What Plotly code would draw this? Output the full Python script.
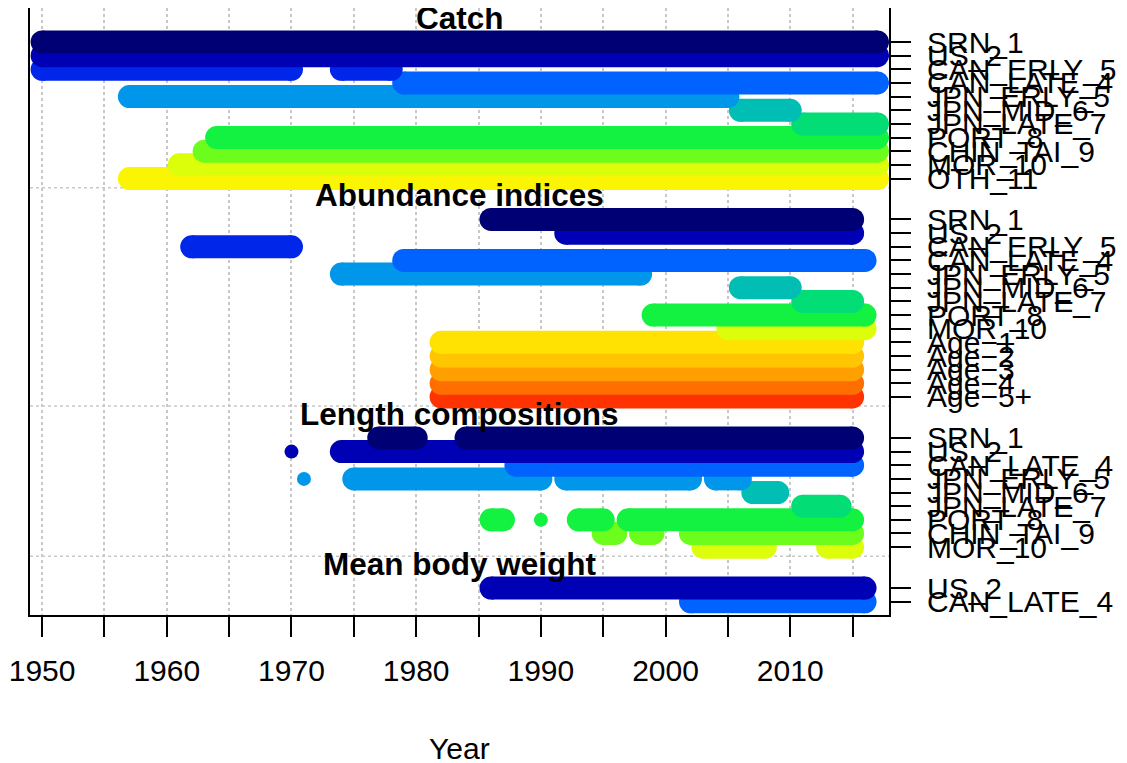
import plotly.graph_objects as go

# ---------------- data ----------------
catch_labels = ["SRN_1", "US_2", "CAN_ERLY_5", "CAN_LATE_4", "JPN_ERLY_5", "JPN_MID_6",
                "JPN_LATE_7", "PORT_8", "CHIN_TAI_9", "MOR_10", "OTH_11"]
catch_spans = [
    [(1950, 2017)],
    [(1950, 2017)],
    [(1950, 1970), (1974, 1978)],
    [(1979, 2017)],
    [(1957, 2005)],
    [(2006, 2010)],
    [(2011, 2017)],
    [(1964, 2017)],
    [(1963, 2017)],
    [(1961, 2017)],
    [(1957, 2017)],
]

index_labels = ["SRN_1", "US_2", "CAN_ERLY_5", "CAN_LATE_4", "JPN_ERLY_5", "JPN_MID_6",
                "JPN_LATE_7", "PORT_8", "MOR_10", "Age\u22121", "Age\u22122", "Age\u22123",
                "Age\u22124", "Age\u22125+"]
index_spans = [
    [(1986, 2015)],
    [(1992, 2015)],
    [(1962, 1970)],
    [(1979, 2016)],
    [(1974, 1998)],
    [(2006, 2010)],
    [(2011, 2015)],
    [(1999, 2016)],
    [(2005, 2016)],
    [(1982, 2015)],
    [(1982, 2015)],
    [(1982, 2015)],
    [(1982, 2015)],
    [(1982, 2015)],
]

length_labels = ["SRN_1", "US_2", "CAN_LATE_4", "JPN_ERLY_5", "JPN_MID_6", "JPN_LATE_7",
                 "PORT_8", "CHIN_TAI_9", "MOR_10"]
length_spans = [
    [(1977, 1980), (1984, 2015)],
    [(1970, 1970), (1974, 2015)],
    [(1988, 2015)],
    [(1971, 1971), (1975, 1990), (1992, 2002), (2004, 2006)],
    [(2007, 2009)],
    [(2011, 2014)],
    [(1986, 1987), (1990, 1990), (1993, 1995), (1997, 2015)],
    [(1995, 1996), (1998, 1999), (2002, 2015)],
    [(2003, 2008), (2013, 2015)],
]

weight_labels = ["US_2", "CAN_LATE_4"]
weight_spans = [
    [(1986, 2016)],
    [(2002, 2016)],
]

section_titles = ["Catch", "Abundance indices", "Length compositions", "Mean body weight"]

year_ticks = list(range(1950, 2016, 5))
year_ticktext = [str(y) if y % 10 == 0 else "" for y in year_ticks]

# ---------------- styles ----------------
fleet_colors = {
    "SRN_1": "#000075", "US_2": "#0000B4", "CAN_ERLY_5": "#0026EA", "CAN_LATE_4": "#0063FF",
    "JPN_ERLY_5": "#0096EA", "JPN_MID_6": "#00BEB4", "JPN_LATE_7": "#02DD75",
    "PORT_8": "#13F240", "CHIN_TAI_9": "#6CFD1D", "MOR_10": "#DDFE0B", "OTH_11": "#FBF504",
    "Age\u22121": "#FFE201", "Age\u22122": "#FFC500", "Age\u22123": "#FF9F00",
    "Age\u22124": "#FF6E00", "Age\u22125+": "#FF3300",
}
FONT = "Liberation Sans, Arial, Helvetica, sans-serif"
BAR_W = 23
DOT = 14
SECTION_SKIP = 2  # empty row slots between sections (header area)

fig = go.Figure()

sections = list(zip(section_titles,
                    [catch_labels, index_labels, length_labels, weight_labels],
                    [catch_spans, index_spans, length_spans, weight_spans]))

tickvals, ticktext = [], []
annotations, shapes = [], []
row = 0
for si, (title, labels, spans) in enumerate(sections):
    first = row
    positions = list(range(row, row + len(labels)))
    annotations.append(dict(x=0.5, xref="paper", y=first - 1.77, yref="y", text="<b>%s</b>" % title,
                            showarrow=False, xanchor="center", yanchor="middle",
                            font=dict(family=FONT, size=31.5, color="black")))
    if si > 0:
        shapes.append(dict(type="line", xref="paper", x0=0, x1=1, yref="y",
                           y0=first - 2.33, y1=first - 2.33, layer="below",
                           line=dict(color="#C8C8C8", width=1.5, dash="dot")))
    tickvals += positions
    ticktext += labels
    for lab, pos, sp in reversed(list(zip(labels, positions, spans))):
        xs, ys, sizes = [], [], []
        for a, b in sp:
            if a == b:
                xs += [a, None]; ys += [pos, None]; sizes += [DOT, 0]
            else:
                xs += [a, b, None]; ys += [pos, pos, None]; sizes += [BAR_W, BAR_W, 0]
        c = fleet_colors[lab]
        fig.add_trace(go.Scatter(x=xs, y=ys, mode="lines+markers",
                                 line=dict(color=c, width=BAR_W),
                                 marker=dict(size=sizes, color=c, opacity=1, line=dict(width=0)),
                                 opacity=1,
                                 hoverinfo="skip", showlegend=False, connectgaps=False))
    row += len(labels) + SECTION_SKIP

annotations.append(dict(x=0.5, xref="paper", y=-0.2192, yref="paper", text="Year",
                        showarrow=False, xanchor="center", yanchor="middle",
                        font=dict(family=FONT, size=30, color="black")))

# page has an 8px body margin: figure size/margins compensate for it
fig.update_layout(
    width=1119, height=755,
    margin=dict(l=22, r=238, t=0, b=148, autoexpand=False),
    paper_bgcolor="white", plot_bgcolor="white",
    font=dict(family=FONT, size=30, color="black"),
    annotations=annotations, shapes=shapes,
    xaxis=dict(range=[1949.03, 2017.92], tickvals=year_ticks, ticktext=year_ticktext,
               ticks="outside", ticklen=20, tickwidth=2, tickcolor="black",
               showline=True, mirror=True, linecolor="black", linewidth=2,
               showgrid=True, gridcolor="#C8C8C8", griddash="dot", gridwidth=1.5,
               zeroline=False, tickfont=dict(family=FONT, size=30, color="black"),
               ticklabelstandoff=8, automargin=False),
    yaxis=dict(range=[41.97, -2.49], side="right", tickvals=tickvals, ticktext=ticktext,
               ticks="outside", ticklen=20, tickwidth=2, tickcolor="black",
               showline=True, mirror=True, linecolor="black", linewidth=2,
               showgrid=False, zeroline=False,
               tickfont=dict(family=FONT, size=30, color="black"),
               ticklabelstandoff=10, automargin=False),
)

fig.write_html("out.html")
